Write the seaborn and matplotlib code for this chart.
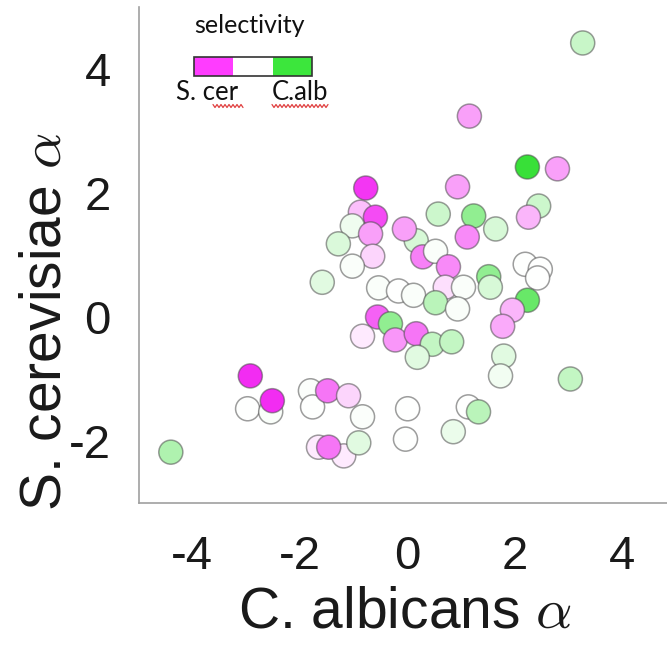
import numpy as np
import pandas as pd
import seaborn as sns
import matplotlib
matplotlib.use("Agg")
import matplotlib.pyplot as plt
from matplotlib.colors import LinearSegmentedColormap
from matplotlib.patches import Rectangle
from matplotlib.lines import Line2D

# Per-gene alpha coefficients in the two yeasts and selectivity (-1 = S. cer, +1 = C. alb)
calb_alpha = [3.27, 1.16, 2.24, 2.80, -0.77, 0.94, -0.87, -0.59, -1.02, -0.68,
              -1.28, -0.64, -1.02, -1.58, 0.17, -0.05, 0.29, 0.53, 0.58, 1.24,
              1.65, 1.12, 2.45, 2.26, 0.77, 0.71, 1.05, 1.52, 1.55, 2.20,
              2.48, 2.43, 2.24, 1.96, 1.78, -0.53, -0.16, 0.12, 0.53, 0.94,
              -0.55, -0.31, -0.83, -0.22, 0.17, 0.47, 0.19, 0.83, 1.80, 1.74,
              3.04, 1.14, 1.33, 0.86, 0.01, -0.03, -2.97, -2.54, -2.92, -2.51,
              -4.40, -1.80, -1.76, -1.48, -1.09, -0.83, -1.65, -1.18, -1.46, -0.90]
scer_alpha = [4.42, 3.24, 2.42, 2.39, 2.08, 2.10, 1.69, 1.61, 1.47, 1.34,
              1.18, 0.98, 0.82, 0.56, 1.23, 1.42, 0.97, 1.06, 1.66, 1.63,
              1.42, 1.29, 1.79, 1.61, 0.81, 0.48, 0.48, 0.65, 0.48, 0.85,
              0.77, 0.63, 0.27, 0.11, -0.15, 0.47, 0.42, 0.35, 0.23, 0.13,
              0.00, -0.11, -0.31, -0.37, -0.27, -0.44, -0.65, -0.40, -0.63, -0.95,
              -1.00, -1.45, -1.53, -1.85, -1.48, -1.97, -1.48, -1.53, -0.95, -1.35,
              -2.18, -1.19, -1.45, -1.19, -1.27, -1.61, -2.10, -2.24, -2.10, -2.03]
selectivity = [0.28, -0.45, 1.00, -0.45, -0.95, -0.45, -0.30, -0.85, 0.08, -0.45,
               0.18, -0.20, 0.03, 0.15, 0.20, -0.45, -0.60, 0.03, 0.25, 0.55,
               0.20, -0.55, 0.25, -0.35, -0.55, -0.15, 0.03, 0.55, 0.20, 0.00,
               0.00, 0.00, 0.75, -0.35, -0.40, 0.03, 0.00, 0.03, 0.35, 0.03,
               -0.75, 0.55, -0.10, -0.50, -0.65, 0.30, 0.15, 0.30, 0.15, 0.07,
               0.30, 0.00, 0.35, 0.10, 0.00, 0.00, 0.00, 0.03, -1.00, -1.00,
               0.40, 0.02, 0.00, -0.65, -0.20, 0.02, -0.10, -0.10, -0.65, 0.15]

x_ticks = [-4, -2, 0, 2, 4]
y_ticks = [-2, 0, 2, 4]
legend_colors = ["#FF3CFF", "#FFFFFF", "#3CE63C"]
legend_labels = ["S. cer", "C.alb"]

sns.set_theme(style="white")
plt.rcParams["font.family"] = ["Liberation Sans", "DejaVu Sans"]
plt.rcParams["axes.unicode_minus"] = False
plt.rcParams["mathtext.fontset"] = "cm"

W, H = 667, 646
fig = plt.figure(figsize=(W / 100, H / 100), dpi=100)


def fx(px):
    return px / W


def fy(py):
    return 1 - py / H


ax = fig.add_axes([fx(138.6), fy(503), 537 / W, 496 / H])

sel_cmap = LinearSegmentedColormap.from_list("sel", ["#F22CF2", "#FFFFFF", "#38E038"])
df = pd.DataFrame({"calb": calb_alpha, "scer": scer_alpha, "sel": selectivity})
sns.scatterplot(data=df, x="calb", y="scer", hue="sel", palette=sel_cmap,
                hue_norm=(-1, 1), s=300, edgecolor=(0.3, 0.3, 0.3, 0.55),
                linewidth=1.1, legend=False, ax=ax, zorder=3)

ax.set_xlim(-5, 5)
ax.set_ylim(-3, 5)
ax.set_xticks(x_ticks)
ax.set_yticks(y_ticks)
for side in ["top", "right"]:
    ax.spines[side].set_visible(False)
for side in ["left", "bottom"]:
    ax.spines[side].set_color("#a0a0a0")
    ax.spines[side].set_linewidth(1.2)
ax.tick_params(direction="in", length=5, width=1, colors="#a0a0a0",
               labelcolor="#1a1a1a", labelsize=34)
ax.tick_params(axis="x", pad=23)
ax.tick_params(axis="y", pad=20)

ax.set_xlabel("C. albicans $\\alpha$", fontsize=41, color="#1a1a1a")
ax.set_ylabel("S. cerevisiae $\\alpha$", fontsize=41, color="#1a1a1a")
ax.xaxis.label.set_va("center")
ax.yaxis.label.set_va("center")
ax.xaxis.set_label_coords(0.496, (fy(612) - fy(503)) / (496 / H))
ax.yaxis.set_label_coords((45 - 138.6) / 537, (fy(322) - fy(503)) / (496 / H))

# selectivity key
key_font = ["Lato", "DejaVu Sans"]
fig.text(fx(249), fy(33), "selectivity", ha="center", va="baseline",
         fontsize=18, family=key_font, color="#111111")
x0, seg = 194, (312 - 194) / 3
for i, c in enumerate(legend_colors):
    fig.patches.append(Rectangle((fx(x0 + i * seg), fy(76)), seg / W, 19 / H,
                                 transform=fig.transFigure, facecolor=c,
                                 edgecolor="none"))
fig.patches.append(Rectangle((fx(x0), fy(76)), (312 - x0) / W, 19 / H,
                             transform=fig.transFigure, facecolor="none",
                             edgecolor="#333333", linewidth=1.2))
fig.text(fx(207), fy(100), legend_labels[0], ha="center", va="baseline",
         fontsize=18.5, family=key_font, color="#111111")
fig.text(fx(300), fy(100), legend_labels[1], ha="center", va="baseline",
         fontsize=18.5, family=key_font, color="#111111")

# wavy underlines beneath the key labels
for xa, xb in [(213, 243), (272, 328)]:
    xs = np.arange(xa, xb + 0.1, 2.0)
    ys = 106 + 1.5 * np.where(np.arange(len(xs)) % 2 == 0, -1, 1)
    fig.lines.append(Line2D(fx(xs), fy(ys), transform=fig.transFigure,
                            color="#E04040", linewidth=0.9))

fig.savefig("out.png", dpi=100)
